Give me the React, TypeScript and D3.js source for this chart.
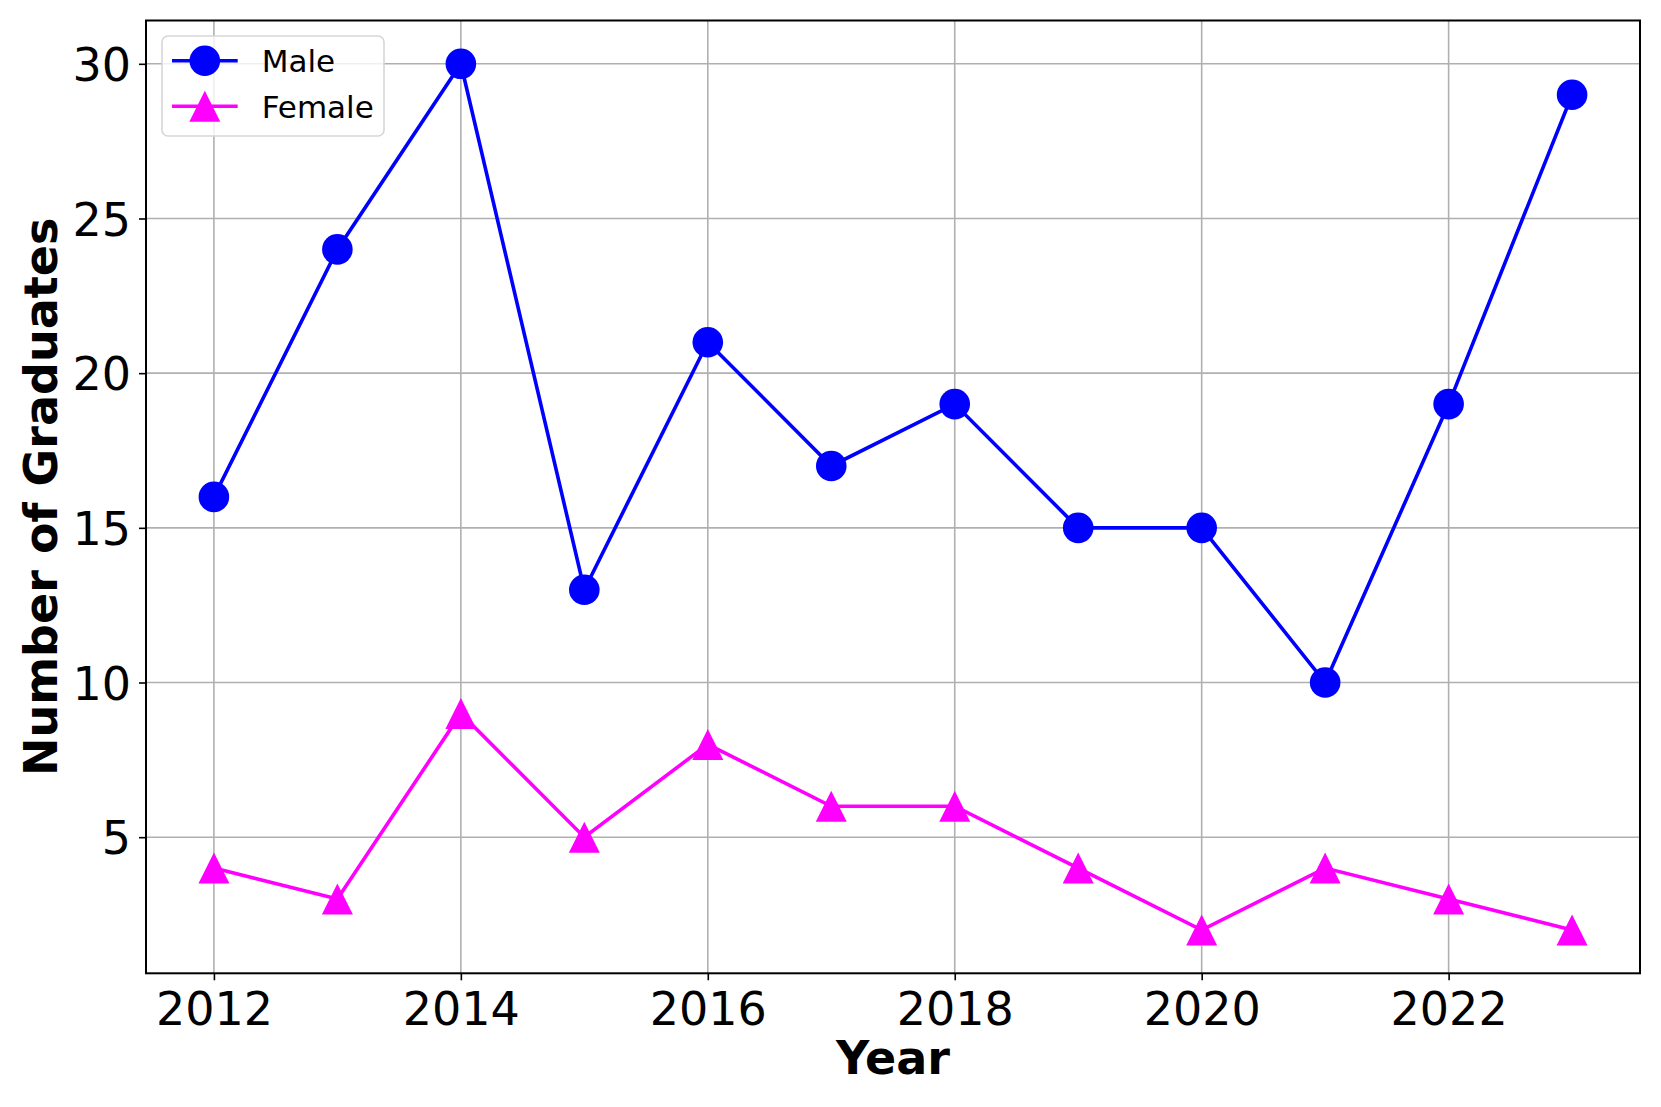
import React, { useRef, useEffect } from 'react';
import * as d3 from 'd3';

const years = [2012, 2013, 2014, 2015, 2016, 2017, 2018, 2019, 2020, 2021, 2022, 2023];
const maleValues = [16, 24, 30, 13, 21, 17, 19, 15, 15, 10, 19, 29];
const femaleValues = [4, 3, 9, 5, 8, 6, 6, 4, 2, 4, 3, 2];
const xTicks = [2012, 2014, 2016, 2018, 2020, 2022];
const yTicks = [5, 10, 15, 20, 25, 30];

const FONT = '"DejaVu Sans", sans-serif';

const App = () => {
  const ref = useRef<SVGSVGElement>(null);

  useEffect(() => {
    if (!ref.current) return;
    const root = d3.select(ref.current);
    root.selectAll('*').remove();

    const W = 1661;
    const H = 1107;
    const margin = { top: 20.5, right: 21, bottom: 133.7, left: 146 };
    const width = W - margin.left - margin.right;
    const height = H - margin.top - margin.bottom;

    root.attr('width', W).attr('height', H);
    root.append('rect').attr('width', W).attr('height', H).attr('fill', '#fff');

    const g = root.append('g').attr('transform', `translate(${margin.left},${margin.top})`);

    // matplotlib style 5% padding
    const x = d3.scaleLinear().domain([2011.45, 2023.55]).range([0, width]);
    const y = d3.scaleLinear().domain([0.6, 31.4]).range([height, 0]);

    // grid
    g.append('g')
      .selectAll('line')
      .data(xTicks)
      .join('line')
      .attr('x1', d => x(d)).attr('x2', d => x(d))
      .attr('y1', 0).attr('y2', height)
      .attr('stroke', '#b0b0b0').attr('stroke-width', 1.6);
    g.append('g')
      .selectAll('line')
      .data(yTicks)
      .join('line')
      .attr('x1', 0).attr('x2', width)
      .attr('y1', d => y(d)).attr('y2', d => y(d))
      .attr('stroke', '#b0b0b0').attr('stroke-width', 1.6);

    // axes
    const xAxis = g.append('g')
      .attr('transform', `translate(0,${height})`)
      .call(d3.axisBottom(x).tickValues(xTicks).tickFormat(d3.format('d')).tickSize(7).tickPadding(12));
    const yAxis = g.append('g')
      .call(d3.axisLeft(y).tickValues(yTicks).tickSize(7).tickPadding(8));
    [xAxis, yAxis].forEach(a => {
      a.select('.domain').remove();
      a.selectAll('.tick line').attr('stroke', '#000').attr('stroke-width', 1.6);
      a.selectAll('.tick text').attr('font-family', FONT).attr('font-size', 46).attr('fill', '#000');
    });
    yAxis.selectAll('.tick text').attr('dy', '0.36em');

    // lines
    const line = d3.line<number>()
      .x((_, i) => x(years[i]))
      .y(d => y(d));

    g.append('path')
      .datum(maleValues)
      .attr('fill', 'none')
      .attr('stroke', '#0000ff')
      .attr('stroke-width', 3.6)
      .attr('d', line);
    g.append('g')
      .selectAll('circle')
      .data(maleValues)
      .join('circle')
      .attr('cx', (_, i) => x(years[i]))
      .attr('cy', d => y(d))
      .attr('r', 15.3)
      .attr('fill', '#0000ff');

    g.append('path')
      .datum(femaleValues)
      .attr('fill', 'none')
      .attr('stroke', '#ff00ff')
      .attr('stroke-width', 3.6)
      .attr('d', line);
    const tri = 'M0,-15.5L15.5,15.5L-15.5,15.5Z';
    g.append('g')
      .selectAll('path')
      .data(femaleValues)
      .join('path')
      .attr('d', tri)
      .attr('transform', (d, i) => `translate(${x(years[i])},${y(d)})`)
      .attr('fill', '#ff00ff');

    // frame
    g.append('rect')
      .attr('width', width).attr('height', height)
      .attr('fill', 'none').attr('stroke', '#000').attr('stroke-width', 2);

    // axis labels
    root.append('text')
      .attr('x', margin.left + width / 2)
      .attr('y', 1074)
      .attr('text-anchor', 'middle')
      .attr('font-family', FONT).attr('font-weight', 'bold').attr('font-size', 46)
      .text('Year');
    root.append('text')
      .attr('transform', `translate(57,${margin.top + height / 2}) rotate(-90)`)
      .attr('text-anchor', 'middle')
      .attr('font-family', FONT).attr('font-weight', 'bold').attr('font-size', 46)
      .text('Number of Graduates');

    // legend
    const leg = root.append('g').attr('transform', 'translate(162,36)');
    leg.append('rect')
      .attr('width', 222).attr('height', 100).attr('rx', 6)
      .attr('fill', 'rgba(255,255,255,0.8)')
      .attr('stroke', '#d6d6d6').attr('stroke-width', 1.6);
    const items = [
      { label: 'Male', color: '#0000ff', shape: 'circle' },
      { label: 'Female', color: '#ff00ff', shape: 'triangle' },
    ];
    items.forEach((it, i) => {
      const cy = 24.7 + i * 45.5;
      leg.append('line')
        .attr('x1', 10).attr('x2', 75.7).attr('y1', cy).attr('y2', cy)
        .attr('stroke', it.color).attr('stroke-width', 3.6);
      if (it.shape === 'circle') {
        leg.append('circle').attr('cx', 42.8).attr('cy', cy).attr('r', 15.3).attr('fill', it.color);
      } else {
        leg.append('path').attr('d', tri).attr('transform', `translate(42.8,${cy})`).attr('fill', it.color);
      }
      leg.append('text')
        .attr('x', 99.7).attr('y', cy + 11.5)
        .attr('font-family', FONT).attr('font-size', 31)
        .text(it.label);
    });
  }, []);

  return <svg ref={ref} style={{ position: 'absolute', left: 0, top: 0, display: 'block' }} />;
};

export default App;
